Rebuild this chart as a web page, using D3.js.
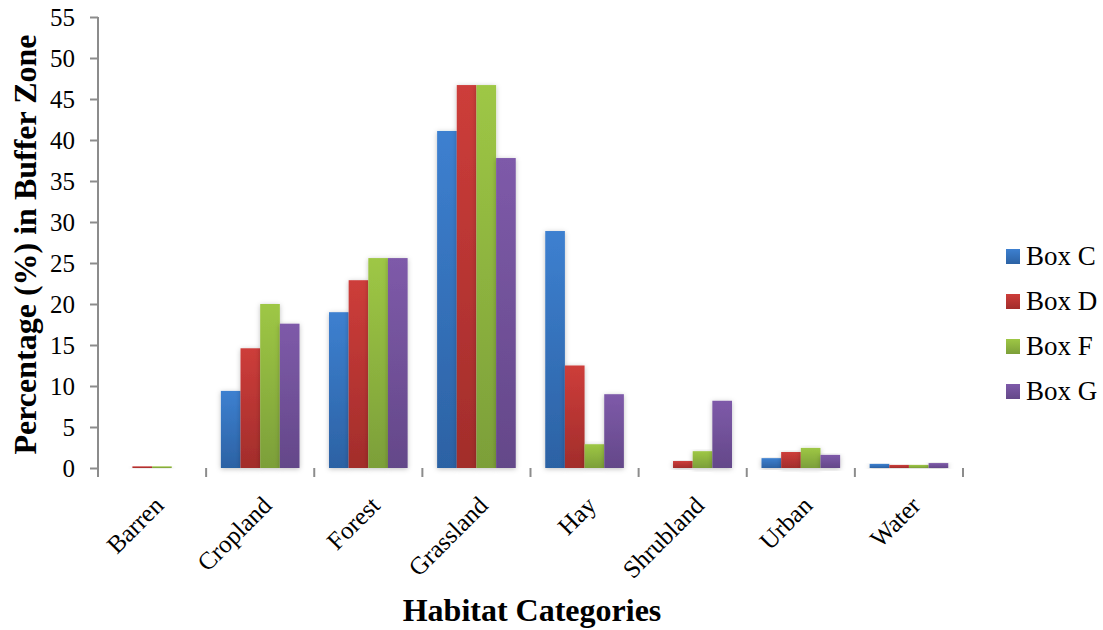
<!DOCTYPE html>
<html>
<head>
<meta charset="utf-8">
<script src="https://cdn.jsdelivr.net/npm/d3@7"></script>
<style>
  html, body { margin: 0; padding: 0; background: #fff; }
  svg { display: block; font-family: "Liberation Serif", "Times New Roman", serif; }
</style>
</head>
<body>
<div id="chart"></div>
<script>
// Habitat share within each buffer zone
const categories = ['Barren', 'Cropland', 'Forest', 'Grassland', 'Hay', 'Shrubland', 'Urban', 'Water'];
const seriesNames = ['Box C', 'Box D', 'Box F', 'Box G'];
const boxC = [0.0, 9.4, 19.0, 41.1, 28.9, 0.0, 1.2, 0.5];
const boxD = [0.2, 14.6, 22.9, 46.7, 12.5, 0.85, 1.95, 0.37];
const boxF = [0.2, 20.0, 25.6, 46.7, 2.9, 2.05, 2.45, 0.37];
const boxG = [0.0, 17.6, 25.6, 37.8, 9.0, 8.2, 1.6, 0.6];
const yTicks = [0, 5, 10, 15, 20, 25, 30, 35, 40, 45, 50, 55];

const seriesValues = [boxC, boxD, boxF, boxG];
const GRAD = [
  ['#3d80d0', '#2c62a4'],
  ['#cd3d3a', '#a22d2b'],
  ['#9ec745', '#7c9f39'],
  ['#7e5aa9', '#644889'],
];

const W = 1103, H = 630;
const margin = { top: 17, right: 140, bottom: 162, left: 98 };
const innerW = W - margin.left - margin.right;
const innerH = H - margin.top - margin.bottom;

const svg = d3.select('#chart').append('svg').attr('width', W).attr('height', H);
const defs = svg.append('defs');

GRAD.forEach((c, i) => {
  const lg = defs.append('linearGradient').attr('id', 'g' + i)
    .attr('x1', 0).attr('y1', 0).attr('x2', 0).attr('y2', 1);
  lg.append('stop').attr('offset', '0%').attr('stop-color', c[0]);
  lg.append('stop').attr('offset', '100%').attr('stop-color', c[1]);
});

const shadow = defs.append('filter').attr('id', 'shadow')
  .attr('x', '-30%').attr('y', '-10%').attr('width', '160%').attr('height', '130%');
shadow.append('feDropShadow').attr('dx', 0).attr('dy', 1).attr('stdDeviation', 2.5)
  .attr('flood-color', '#000').attr('flood-opacity', 0.25);

const lineShadow = defs.append('filter').attr('id', 'lshadow')
  .attr('x', '-5%').attr('y', '-300%').attr('width', '110%').attr('height', '700%');
lineShadow.append('feDropShadow').attr('dx', 0).attr('dy', 1).attr('stdDeviation', 1)
  .attr('flood-color', '#000').attr('flood-opacity', 0.2);

const g = svg.append('g').attr('transform', `translate(${margin.left},${margin.top})`);

const x0 = d3.scaleBand().domain(categories).range([0, innerW]).paddingInner(0).paddingOuter(0);
// Excel gap width 150%: 4 bars + 1.5 bar widths of gap per category
const x1 = d3.scaleBand().domain(seriesNames).range([0, x0.bandwidth()])
  .paddingInner(0).paddingOuter(0.75);
const y = d3.scaleLinear().domain([0, 55]).range([innerH, 0]);

// Grid lines
g.append('g')
  .selectAll('line')
  .data(yTicks.filter(t => t > 0))
  .join('line')
  .attr('x1', 0).attr('x2', innerW)
  .attr('y1', d => y(d)).attr('y2', d => y(d))
  .attr('stroke', '#8c8c8c').attr('stroke-width', 2)
  .attr('filter', 'url(#lshadow)');

// Y axis
g.append('g')
  .call(d3.axisLeft(y).tickValues(yTicks).tickSize(8).tickPadding(15))
  .call(ax => ax.select('.domain').attr('stroke', '#8c8c8c').attr('stroke-width', 2).attr('d', `M0,${innerH}V0`))
  .call(ax => ax.selectAll('.tick line').attr('stroke', '#8c8c8c').attr('stroke-width', 2))
  .call(ax => ax.selectAll('text').attr('fill', '#000').style('font-size', '25px')
    .style('font-family', '"Liberation Serif", serif').attr('dy', '0.34em'));

// Bars
const groups = g.append('g')
  .selectAll('g')
  .data(categories)
  .join('g')
  .attr('transform', d => `translate(${x0(d)},0)`);

groups.selectAll('rect')
  .data((c, ci) => seriesNames.map((s, si) => ({ s, si, v: seriesValues[si][ci] })))
  .join('rect')
  .attr('x', d => x1(d.s))
  .attr('y', d => y(d.v))
  .attr('width', x1.bandwidth())
  .attr('height', d => Math.max(0, y(0) - y(d.v)))
  .attr('fill', d => `url(#g${d.si})`)
  .attr('filter', 'url(#shadow)');

// X axis
g.append('g')
  .attr('transform', `translate(0,${innerH})`)
  .call(ax => ax.append('line').attr('x1', 0).attr('x2', innerW)
    .attr('stroke', '#8c8c8c').attr('stroke-width', 2.5).attr('filter', 'url(#lshadow)'))
  .call(ax => ax.selectAll('.sep')
    .data(d3.range(categories.length + 1))
    .join('line')
    .attr('x1', i => i * x0.bandwidth()).attr('x2', i => i * x0.bandwidth())
    .attr('y1', 0).attr('y2', 9)
    .attr('stroke', '#8c8c8c').attr('stroke-width', 2))
  .call(ax => ax.selectAll('.lab')
    .data(categories)
    .join('text')
    .attr('transform', d => `translate(${x0(d) + x0.bandwidth() / 2 + 13},${39}) rotate(-45)`)
    .attr('text-anchor', 'end')
    .attr('fill', '#000')
    .style('font-size', '25px')
    .text(d => d));

// Axis titles
svg.append('text')
  .attr('transform', `translate(36,${margin.top + innerH / 2 + 2}) rotate(-90)`)
  .attr('text-anchor', 'middle')
  .style('font-size', '32px').style('font-weight', 'bold')
  .text('Percentage (%) in Buffer Zone');

svg.append('text')
  .attr('x', 532).attr('y', 621)
  .attr('text-anchor', 'middle')
  .style('font-size', '32px').style('font-weight', 'bold')
  .text('Habitat Categories');

// Legend
const legend = svg.append('g').attr('transform', 'translate(1006,249)');
seriesNames.forEach((s, i) => {
  const row = legend.append('g').attr('transform', `translate(0,${i * 45})`);
  row.append('rect').attr('width', 14).attr('height', 15).attr('fill', `url(#g${i})`);
  row.append('text').attr('x', 20).attr('y', 16).style('font-size', '27px').text(s);
});
</script>
</body>
</html>
